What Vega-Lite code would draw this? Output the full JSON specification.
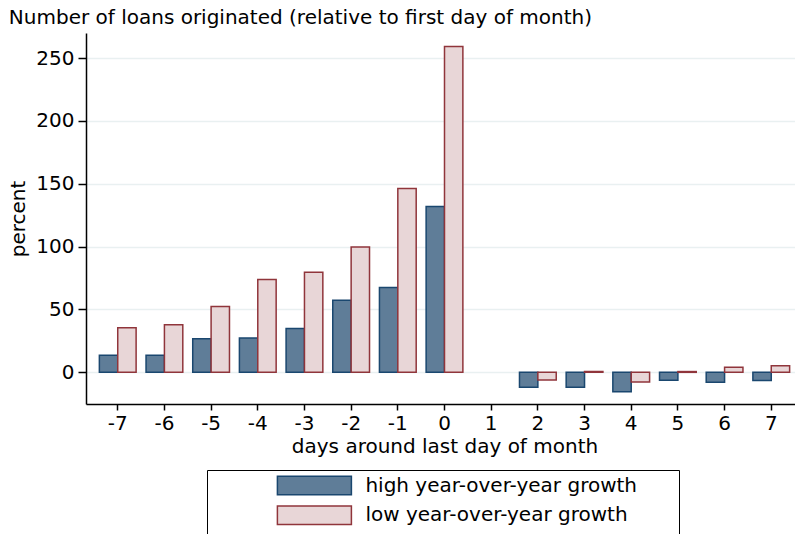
{
  "$schema": "https://vega.github.io/schema/vega-lite/v6.json",
  "width": 717,
  "height": 371,
  "padding": {"left": 8, "top": 8, "right": 0, "bottom": 0},
  "background": "white",
  "title": {
    "text": "Number of loans originated (relative to first day of month)",
    "anchor": "start",
    "frame": "bounds",
    "fontSize": 20,
    "fontWeight": "normal",
    "font": "DejaVu Sans",
    "color": "black",
    "offset": 5
  },
  "data": {
    "values": [
      {"day": -7, "group": "high year-over-year growth", "value": 13.5},
      {"day": -7, "group": "low year-over-year growth", "value": 35.4},
      {"day": -6, "group": "high year-over-year growth", "value": 13.5},
      {"day": -6, "group": "low year-over-year growth", "value": 37.8},
      {"day": -5, "group": "high year-over-year growth", "value": 26.7},
      {"day": -5, "group": "low year-over-year growth", "value": 52.4},
      {"day": -4, "group": "high year-over-year growth", "value": 27.2},
      {"day": -4, "group": "low year-over-year growth", "value": 73.8},
      {"day": -3, "group": "high year-over-year growth", "value": 34.9},
      {"day": -3, "group": "low year-over-year growth", "value": 79.6},
      {"day": -2, "group": "high year-over-year growth", "value": 57.4},
      {"day": -2, "group": "low year-over-year growth", "value": 99.7},
      {"day": -1, "group": "high year-over-year growth", "value": 67.5},
      {"day": -1, "group": "low year-over-year growth", "value": 146.3},
      {"day": 0, "group": "high year-over-year growth", "value": 131.8},
      {"day": 0, "group": "low year-over-year growth", "value": 259.2},
      {"day": 2, "group": "high year-over-year growth", "value": -11.9},
      {"day": 2, "group": "low year-over-year growth", "value": -6.1},
      {"day": 3, "group": "high year-over-year growth", "value": -11.9},
      {"day": 3, "group": "low year-over-year growth", "value": 0.6},
      {"day": 4, "group": "high year-over-year growth", "value": -15.4},
      {"day": 4, "group": "low year-over-year growth", "value": -7.7},
      {"day": 5, "group": "high year-over-year growth", "value": -6.3},
      {"day": 5, "group": "low year-over-year growth", "value": 0.6},
      {"day": 6, "group": "high year-over-year growth", "value": -7.9},
      {"day": 6, "group": "low year-over-year growth", "value": 4.0},
      {"day": 7, "group": "high year-over-year growth", "value": -6.6},
      {"day": 7, "group": "low year-over-year growth", "value": 5.3}
    ]
  },
  "mark": {"type": "bar", "strokeWidth": 1.5},
  "encoding": {
    "x": {
      "field": "day",
      "type": "ordinal",
      "title": "days around last day of month",
      "scale": {"domain": [-7, -6, -5, -4, -3, -2, -1, 0, 1, 2, 3, 4, 5, 6, 7], "paddingInner": 0, "paddingOuter": 0.18},
      "axis": {
        "labelAngle": 0,
        "grid": false,
        "tickSize": 6,
        "tickWidth": 1.5,
        "tickColor": "black",
        "domainColor": "black",
        "domainWidth": 1.5,
        "labelFontSize": 20,
        "labelColor": "black",
        "labelPadding": 3,
        "titleFontSize": 20,
        "titleFontWeight": "normal",
        "titleColor": "black",
        "titlePadding": 3
      }
    },
    "xOffset": {
      "field": "group",
      "type": "nominal",
      "scale": {"paddingInner": 0, "paddingOuter": 0.27}
    },
    "y": {
      "field": "value",
      "type": "quantitative",
      "title": "percent",
      "scale": {"domain": [-25.2, 269.9], "nice": false},
      "axis": {
        "values": [0, 50, 100, 150, 200, 250],
        "grid": true,
        "gridColor": "#e9f0f1",
        "gridWidth": 1.5,
        "tickSize": 8,
        "tickWidth": 1.5,
        "tickColor": "black",
        "domainColor": "black",
        "domainWidth": 1.5,
        "labelFontSize": 20,
        "labelColor": "black",
        "labelPadding": 4,
        "titleFontSize": 20,
        "titleFontWeight": "normal",
        "titleColor": "black",
        "titlePadding": 7
      }
    },
    "y2": {"datum": 0},
    "fill": {
      "field": "group",
      "type": "nominal",
      "scale": {"domain": ["high year-over-year growth", "low year-over-year growth"], "range": ["#5f7d98", "#e8d6d7"]},
      "legend": {
        "title": null,
        "orient": "none",
        "legendX": 121,
        "legendY": 437,
        "direction": "vertical",
        "symbolType": "M-4,-1H4V1H-4Z",
        "symbolSize": 342.25,
        "symbolStrokeWidth": 1.5,
        "labelFontSize": 20,
        "labelColor": "black",
        "labelFont": "DejaVu Sans",
        "labelOffset": 41,
        "labelLimit": 600,
        "labelExpr": "datum.label + '\u00a0\u2800\u2800'",
        "padding": 5.5,
        "strokeColor": "black",
        "rowPadding": 3.8,
        "symbolOffset": 91.9
      }
    },
    "stroke": {
      "field": "group",
      "type": "nominal",
      "scale": {"domain": ["high year-over-year growth", "low year-over-year growth"], "range": ["#1a476f", "#90353b"]},
      "legend": {
        "title": null,
        "orient": "none",
        "legendX": 121,
        "legendY": 437,
        "direction": "vertical",
        "symbolType": "M-4,-1H4V1H-4Z",
        "symbolSize": 342.25,
        "symbolStrokeWidth": 1.5,
        "labelFontSize": 20,
        "labelColor": "black",
        "labelFont": "DejaVu Sans",
        "labelOffset": 41,
        "labelLimit": 600,
        "labelExpr": "datum.label + '\u00a0\u2800\u2800'",
        "padding": 5.5,
        "strokeColor": "black",
        "rowPadding": 3.8,
        "symbolOffset": 91.9
      }
    }
  },
  "config": {
    "view": {"stroke": null},
    "font": "DejaVu Sans"
  }
}
